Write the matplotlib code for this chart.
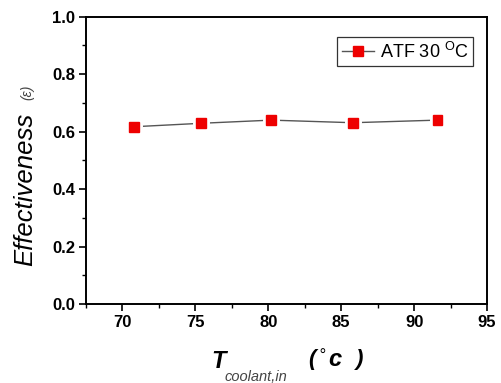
import matplotlib
matplotlib.use("Agg")
import matplotlib.pyplot as plt
import matplotlib.patheffects as pe
from matplotlib.ticker import MultipleLocator
from matplotlib.lines import Line2D

plt.rcParams['font.family'] = ['Liberation Sans', 'DejaVu Sans']
plt.rcParams['mathtext.fontset'] = 'custom'
plt.rcParams['mathtext.rm'] = 'Liberation Sans'

t_coolant = [70.8, 75.4, 80.2, 85.8, 91.6]
effectiveness = [0.617, 0.629, 0.640, 0.631, 0.640]
series_label = "ATF 30 $^{\\mathrm{O}}$C"

W, H = 502, 383
fig = plt.figure(figsize=(W/100, H/100), dpi=100)
ax = fig.add_axes([86/W, 1-304/H, (487-86)/W, (304-16.7)/H])

ax.plot(t_coolant, effectiveness, color='#555555', lw=1.0, zorder=2)
ax.plot(t_coolant, effectiveness, 's', color='#ee0000', ms=7, mec='#ee0000',
        zorder=3, path_effects=[pe.Stroke(linewidth=5, foreground='white'), pe.Normal()])

h = Line2D([], [], color='#555555', lw=1.0, marker='s', ms=7, mfc='#ee0000', mec='#ee0000')
leg = ax.legend([h], [series_label], loc='upper right', bbox_to_anchor=((473-86)/401, (304-37)/287.3),
                borderaxespad=0, fancybox=False, framealpha=1, edgecolor='#333333',
                fontsize=13, handlelength=1.8, handletextpad=0.3, borderpad=0.25)
leg.get_frame().set_linewidth(0.9)

ax.set_xlim(67.5, 95)
ax.set_ylim(0.0, 1.0)
ax.xaxis.set_major_locator(MultipleLocator(5))
ax.xaxis.set_minor_locator(MultipleLocator(2.5))
ax.yaxis.set_major_locator(MultipleLocator(0.2))
ax.yaxis.set_minor_locator(MultipleLocator(0.1))
ax.yaxis.set_major_formatter(matplotlib.ticker.FormatStrFormatter('%.1f'))

for s in ax.spines.values():
    s.set_linewidth(1.4)
ax.tick_params(which='major', direction='out', length=5, width=1.2, labelsize=12, pad=3)
ax.tick_params(which='minor', direction='out', length=3, width=1.0)
for lab in ax.get_xticklabels() + ax.get_yticklabels():
    lab.set_fontweight('bold')

fig.text(25/W, 1-189/H, 'Effectiveness', rotation=90, ha='center', va='center',
         fontsize=18.5, style='italic')
fig.text(27/W, 1-92/H, '(ε)', rotation=90, ha='center', va='center',
         fontsize=10, style='italic', color='#444444')

fig.text(211/W, 1-362/H, 'T', ha='left', va='center', fontsize=17, style='italic', fontweight='bold')
fig.text(225/W, 1-377/H, 'coolant,in', ha='left', va='center', fontsize=10.5, style='italic', color='#444444')
fig.text(308/W, 1-360/H, '(', ha='left', va='center', fontsize=16, style='italic', fontweight='bold')
fig.text(318/W, 1-356/H, '°', ha='left', va='center', fontsize=12, style='italic')
fig.text(328/W, 1-360/H, 'c', ha='left', va='center', fontsize=17, style='italic', fontweight='bold')
fig.text(356/W, 1-360/H, ')', ha='left', va='center', fontsize=16, style='italic', fontweight='bold')

fig.savefig('out.png', dpi=100)
